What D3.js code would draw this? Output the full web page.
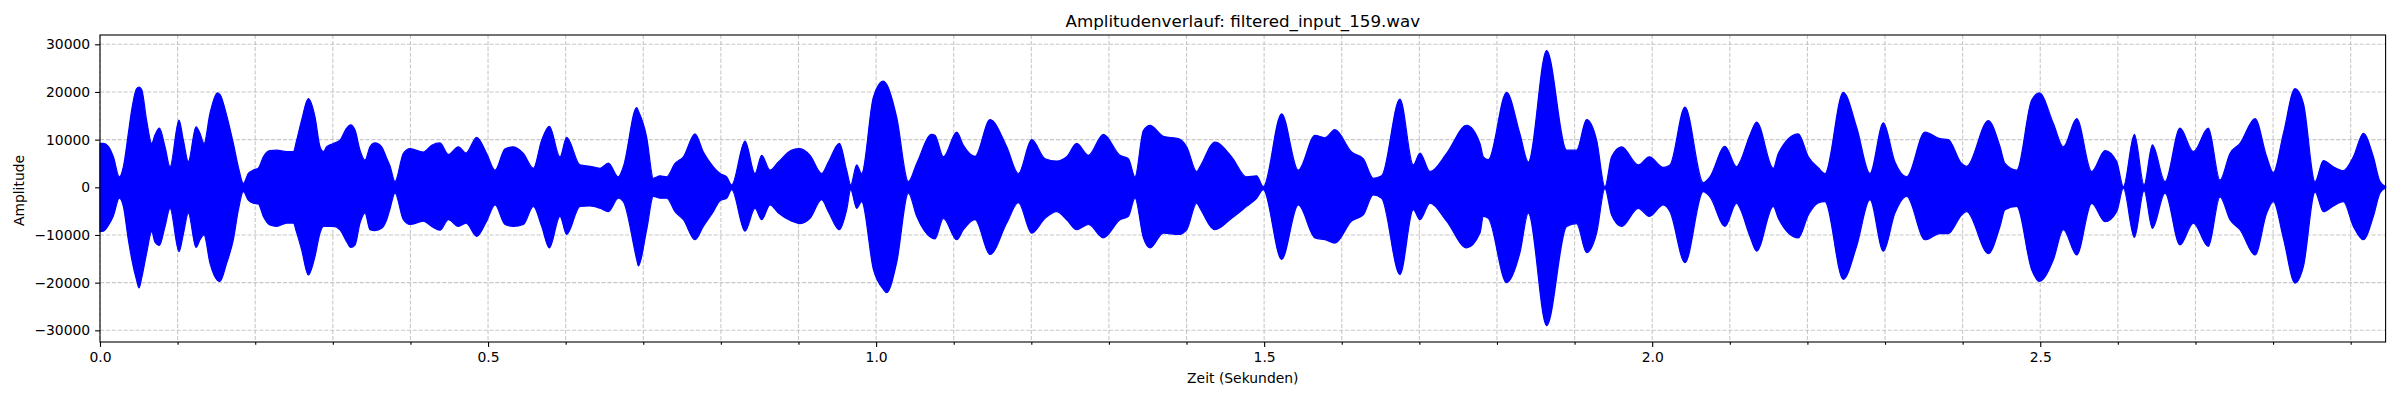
<!DOCTYPE html>
<html>
<head>
<meta charset="utf-8">
<script src="https://cdn.jsdelivr.net/npm/d3@7"></script>
<style>
  body { margin: 0; background: #fff; }
  svg text { font-family: "DejaVu Sans", sans-serif; fill: #000; }
</style>
</head>
<body>
<svg id="chart"></svg>
<script>
// envelope of the waveform (seconds, upper / lower amplitude)
var times = [
  0.0000, 0.0043, 0.0107, 0.0172, 0.0249, 0.0301, 0.0365, 0.0408, 0.0472, 0.0503,
  0.0537, 0.0601, 0.0666, 0.0709, 0.0765, 0.0838, 0.0902, 0.1018, 0.1074, 0.1138,
  0.1237, 0.1289, 0.1340, 0.1417, 0.1512, 0.1545, 0.1632, 0.1718, 0.1782, 0.1847,
  0.1911, 0.1976, 0.2040, 0.2105, 0.2190, 0.2276, 0.2405, 0.2491, 0.2534, 0.2598,
  0.2684, 0.2770, 0.2835, 0.2878, 0.2921, 0.3007, 0.3092, 0.3178, 0.3230, 0.3286,
  0.3350, 0.3415, 0.3479, 0.3543, 0.3629, 0.3694, 0.3737, 0.3801, 0.3909, 0.3995,
  0.4166, 0.4274, 0.4381, 0.4489, 0.4617, 0.4716, 0.4854, 0.4982, 0.5090, 0.5219,
  0.5326, 0.5455, 0.5584, 0.5691, 0.5790, 0.5927, 0.6013, 0.6185, 0.6314, 0.6443,
  0.6550, 0.6679, 0.6743, 0.6915, 0.6937, 0.7044, 0.7130, 0.7216, 0.7302, 0.7409,
  0.7517, 0.7667, 0.7774, 0.7903, 0.7989, 0.8075, 0.8139, 0.8311, 0.8440, 0.8526,
  0.8633, 0.8741, 0.8913, 0.9020, 0.9149, 0.9299, 0.9385, 0.9527, 0.9621, 0.9673,
  0.9750, 0.9814, 0.9965, 1.0094, 1.0136, 1.0265, 1.0416, 1.0523, 1.0716, 1.0759,
  1.0867, 1.1039, 1.1125, 1.1275, 1.1468, 1.1683, 1.1833, 1.2005, 1.2177, 1.2327,
  1.2456, 1.2585, 1.2735, 1.2928, 1.3143, 1.3251, 1.3336, 1.3444, 1.3530, 1.3702,
  1.3895, 1.4002, 1.4131, 1.4173, 1.4366, 1.4581, 1.4774, 1.4903, 1.4989, 1.5225,
  1.5440, 1.5655, 1.5784, 1.5912, 1.6127, 1.6277, 1.6406, 1.6514, 1.6750, 1.6922,
  1.7008, 1.7137, 1.7351, 1.7609, 1.7781, 1.7824, 1.7888, 1.8124, 1.8296, 1.8404,
  1.8640, 1.8898, 1.9026, 1.9155, 1.9284, 1.9391, 1.9477, 1.9606, 1.9821, 1.9963,
  2.0143, 2.0229, 2.0422, 2.0658, 2.0744, 2.0938, 2.1088, 2.1131, 2.1260, 2.1346,
  2.1561, 2.1625, 2.1883, 2.2012, 2.2140, 2.2226, 2.2462, 2.2634, 2.2806, 2.2978,
  2.3128, 2.3279, 2.3515, 2.3708, 2.3815, 2.3987, 2.4052, 2.4331, 2.4482, 2.4546,
  2.4697, 2.4890, 2.4989, 2.5169, 2.5298, 2.5470, 2.5663, 2.5835, 2.5985, 2.6071,
  2.6213, 2.6338, 2.6445, 2.6608, 2.6801, 2.6973, 2.7166, 2.7316, 2.7445, 2.7574,
  2.7768, 2.7918, 2.8004, 2.8133, 2.8283, 2.8391, 2.8541, 2.8648, 2.8777, 2.8906,
  2.9035, 2.9164, 2.9292, 2.9378, 2.9450
];
var upper = [
  9200, 9200, 8600, 6400, 2200, 4300, 11300, 16200, 20700, 21000,
  20500, 14000, 9200, 11000, 12400, 8500, 4300, 14100, 9900, 5400,
  12700, 11300, 9200, 15500, 19800, 19500, 15100, 9200, 4300, 840,
  2900, 3600, 4000, 6400, 7700, 7800, 7500, 7500, 9900, 14100,
  18600, 14800, 8500, 7500, 8500, 9200, 9900, 12400, 13100, 12000,
  7800, 5700, 8500, 9300, 8500, 6100, 4500, 1200, 7100, 8100,
  7400, 8800, 9300, 6900, 8500, 7200, 10500, 7100, 3600, 8100,
  8500, 7100, 4000, 9900, 12800, 6400, 10500, 4700, 4400, 4000,
  5100, 2200, 4300, 16700, 16000, 10500, 1900, 2400, 2200, 5000,
  6400, 11200, 7400, 4300, 2900, 2200, 500, 9700, 2900, 6700,
  3600, 5300, 7800, 8100, 6700, 2900, 5300, 9200, 3600, 500,
  4700, 2900, 18900, 22300, 21600, 14700, 1200, 5000, 11100, 10900,
  6400, 11600, 8800, 6500, 14200, 8500, 2900, 10000, 6000, 5500,
  6400, 9200, 6700, 11100, 6700, 6000, 2200, 11900, 13000, 10700,
  10200, 8500, 3300, 4300, 9500, 6400, 2200, 2400, 150, 15400,
  3600, 10900, 10400, 12100, 7400, 6000, 1900, 2400, 18500, 4700,
  7200, 3300, 7100, 13000, 9200, 6400, 5800, 19900, 11200, 5300,
  28700, 7800, 7800, 14200, 9900, 100, 6400, 8500, 4700, 6400,
  4200, 4700, 16800, 1000, 2200, 8600, 4300, 5300, 11000, 13700,
  4000, 7100, 11200, 6400, 4100, 2900, 19900, 12600, 2900, 13500,
  5300, 2200, 11600, 10200, 10000, 5000, 4400, 14000, 8500, 5000,
  3600, 18300, 19800, 13400, 8500, 14400, 3300, 7700, 5400, 150,
  11100, 500, 8900, 1200, 12400, 7500, 12400, 1500, 7100, 9200,
  14400, 6400, 3100, 11300, 20700, 17600, 1200, 5600, 4300, 3500,
  6400, 11300, 6400, 1200, 150
];
var lower = [
  -9300, -9200, -8000, -6000, -2300, -4000, -11000, -15000, -19500, -21100,
  -19000, -13800, -9300, -11500, -12200, -8200, -4400, -13500, -9800, -5400,
  -12600, -11000, -10000, -15900, -19500, -19750, -15900, -11000, -4800, -900,
  -2700, -3350, -3500, -6100, -7900, -8200, -7500, -7500, -9500, -13100,
  -18400, -14500, -9600, -8200, -8200, -8200, -8900, -11400, -12600, -12100,
  -7500, -5400, -8900, -9100, -8600, -6800, -4500, -1200, -6800, -7800,
  -7100, -8200, -9000, -6800, -8200, -7500, -10300, -7100, -3700, -7800,
  -8200, -7800, -4000, -8200, -12700, -6100, -9900, -4000, -3900, -4400,
  -5100, -2300, -3000, -15100, -16500, -8900, -1900, -2300, -2300, -5100,
  -6800, -11000, -8200, -5100, -2800, -2300, -500, -9200, -4400, -6800,
  -3700, -5400, -7100, -7600, -6500, -2600, -5100, -8900, -4700, -500,
  -4400, -3000, -17200, -21400, -22100, -15800, -1200, -6100, -10600, -10800,
  -6500, -11000, -8900, -6800, -14100, -7500, -3200, -9600, -6500, -5100,
  -6800, -8900, -7800, -10600, -6800, -6100, -2300, -10600, -12700, -9600,
  -9900, -8900, -3300, -4400, -8900, -6500, -4000, -2300, -500, -15100,
  -3700, -10600, -11000, -11700, -7100, -5800, -1600, -2300, -18300, -4700,
  -6800, -3300, -7100, -12700, -9600, -6100, -6500, -20000, -13700, -5400,
  -29000, -8200, -7600, -13700, -9600, -300, -5800, -8200, -4400, -6100,
  -3700, -5100, -15800, -900, -2000, -8200, -3300, -4400, -10300, -13400,
  -4000, -6500, -10600, -5800, -3300, -3000, -19300, -12400, -2600, -13400,
  -5400, -1900, -11000, -9700, -9700, -5800, -5100, -13900, -8200, -4700,
  -4000, -17300, -19750, -15200, -8900, -14200, -3350, -7200, -5100, -200,
  -10500, -700, -8600, -1200, -12100, -7500, -12400, -2000, -6800, -8900,
  -14200, -5400, -3000, -10700, -20100, -16600, -1000, -5100, -3900, -3000,
  -8200, -11000, -6100, -1200, -150
];

var xLimits = [0, 2.945];
var yLimits = [-32450, 31950];
var xMajorTicks = [0, 0.5, 1.0, 1.5, 2.0, 2.5];
var xMinorTicks = [0.1, 0.2, 0.3, 0.4, 0.6, 0.7, 0.8, 0.9, 1.1, 1.2, 1.3, 1.4,
                   1.6, 1.7, 1.8, 1.9, 2.1, 2.2, 2.3, 2.4, 2.6, 2.7, 2.8, 2.9];
var yTicks = [-30000, -20000, -10000, 0, 10000, 20000, 30000];

var titleText = "Amplitudenverlauf: filtered_input_159.wav";
var xLabelText = "Zeit (Sekunden)";
var yLabelText = "Amplitude";

// layout (figure 2400 x 400)
var W = 2400, H = 400;
var margin = { top: 35, right: 14.4, bottom: 58, left: 100 };
var width = W - margin.left - margin.right,
    height = H - margin.top - margin.bottom;

var svg = d3.select("#chart")
    .attr("width", W)
    .attr("height", H);

var g = svg.append("g")
    .attr("transform", "translate(" + margin.left + "," + margin.top + ")");

var xScale = d3.scaleLinear().domain(xLimits).range([0, width]);
var yScale = d3.scaleLinear().domain(yLimits).range([height, 0]);

var data = times.map(function (t, i) {
    return { t: t, hi: upper[i], lo: lower[i] };
});

// grid (major + minor on x, major on y)
var gridStyle = function (sel) {
    sel.attr("stroke", "#b0b0b0")
        .attr("stroke-opacity", 0.7)
        .attr("stroke-width", 1.1)
        .attr("stroke-dasharray", "4.1,1.8")
        .attr("fill", "none");
};

g.append("g").selectAll("line")
    .data(xMajorTicks.concat(xMinorTicks))
    .enter()
    .append("line")
    .attr("x1", function (d) { return xScale(d); })
    .attr("x2", function (d) { return xScale(d); })
    .attr("y1", 0)
    .attr("y2", height)
    .call(gridStyle);

g.append("g").selectAll("line")
    .data(yTicks)
    .enter()
    .append("line")
    .attr("x1", 0)
    .attr("x2", width)
    .attr("y1", function (d) { return yScale(d); })
    .attr("y2", function (d) { return yScale(d); })
    .call(gridStyle);

// waveform envelope
var area = d3.area()
    .curve(d3.curveMonotoneX)
    .x(function (d) { return xScale(d.t); })
    .y0(function (d) { return yScale(d.lo); })
    .y1(function (d) { return yScale(d.hi); });

g.append("path")
    .datum(data)
    .attr("d", area)
    .attr("fill", "#0000ff")
    .attr("stroke", "#0000ff")
    .attr("stroke-width", 1.2)
    .attr("stroke-linejoin", "round");

// axes
var fmtMinus = function (d) { return String(d).replace("-", "\u2212"); };

var xAxis = g.append("g")
    .attr("transform", "translate(0," + height + ")")
    .call(d3.axisBottom(xScale)
        .tickValues(xMajorTicks)
        .tickSize(4.9)
        .tickPadding(4.9)
        .tickFormat(d3.format(".1f")));

var xMinorAxis = g.append("g")
    .attr("transform", "translate(0," + height + ")")
    .call(d3.axisBottom(xScale)
        .tickValues(xMinorTicks)
        .tickSize(2.8)
        .tickFormat(""));

var yAxis = g.append("g")
    .call(d3.axisLeft(yScale)
        .tickValues(yTicks)
        .tickSize(4.9)
        .tickPadding(4.9)
        .tickFormat(fmtMinus));

[xAxis, xMinorAxis, yAxis].forEach(function (ax) {
    ax.select(".domain").remove();
    ax.selectAll(".tick line").attr("stroke", "#000").attr("stroke-width", 1.1);
    ax.selectAll(".tick text")
        .style("font-family", "'DejaVu Sans', sans-serif")
        .style("font-size", "13.9px")
        .attr("fill", "#000");
});

// frame
g.append("rect")
    .attr("x", 0)
    .attr("y", 0)
    .attr("width", width)
    .attr("height", height)
    .attr("fill", "none")
    .attr("stroke", "#000")
    .attr("stroke-width", 1.1);

// title and labels
svg.append("text")
    .attr("x", margin.left + width / 2)
    .attr("y", 26.7)
    .attr("text-anchor", "middle")
    .style("font-size", "16.7px")
    .text(titleText);

svg.append("text")
    .attr("x", margin.left + width / 2)
    .attr("y", 383)
    .attr("text-anchor", "middle")
    .style("font-size", "13.9px")
    .text(xLabelText);

svg.append("text")
    .attr("transform", "translate(24," + (margin.top + height / 2 + 2) + ") rotate(-90)")
    .attr("text-anchor", "middle")
    .style("font-size", "13.9px")
    .text(yLabelText);
</script>
</body>
</html>
